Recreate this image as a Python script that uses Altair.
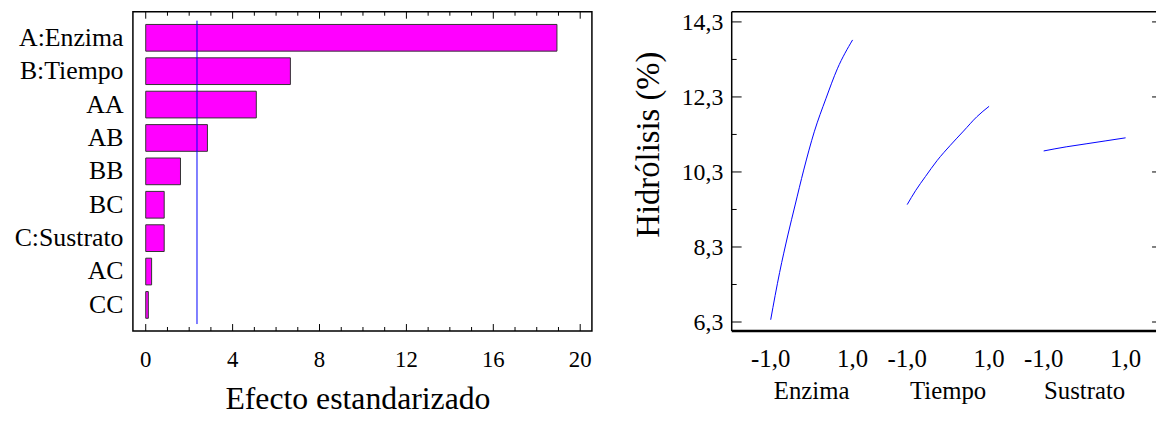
import altair as alt
import pandas as pd

# ---------------- data: left panel (standardized Pareto chart) ----------------
terms = ["A:Enzima", "B:Tiempo", "AA", "AB", "BB", "BC", "C:Sustrato", "AC", "CC"]
effects = [18.93, 6.66, 5.09, 2.84, 1.60, 0.85, 0.85, 0.27, 0.12]
t_crit = 2.36
effect_major_ticks = [0, 4, 8, 12, 16, 20]
effect_minor_ticks = [1, 2, 3, 5, 6, 7, 9, 10, 11, 13, 14, 15, 17, 18, 19]
x_title = "Efecto estandarizado"

# ---------------- data: right panel (main effects plot) ----------------
factors = ["Enzima", "Tiempo", "Sustrato"]
enzima_level = [-1.0, -0.782, -0.58, -0.403, -0.194, 0.064, 0.347, 0.628, 1.0]
enzima_hidrolisis = [6.36, 7.62, 8.62, 9.42, 10.35, 11.37, 12.25, 13.05, 13.82]
tiempo_level = [-1.0, -0.796, -0.553, -0.272, 0.053, 0.376, 0.699, 1.0]
tiempo_hidrolisis = [9.43, 9.80, 10.18, 10.60, 11.01, 11.39, 11.77, 12.05]
sustrato_level = [-1.0, -0.45, 0.035, 0.52, 1.0]
sustrato_hidrolisis = [10.86, 10.97, 11.05, 11.13, 11.21]
level_ticks = [-1.0, 1.0]
y_major_ticks = [6.3, 8.3, 10.3, 12.3, 14.3]
y_minor_ticks = [7.3, 9.3, 11.3, 13.3]
y_title = "Hidrólisis (%)"

FONT = "Liberation Serif"
BLOCK = 10.0 / 3.0  # horizontal spacing between factor blocks (layout)


def fmt_comma(v):
    return f"{v:.1f}".replace(".", ",")


# ---------------- left panel ----------------
LW, LH = 463, 322
df_eff = pd.DataFrame({"term": terms, "effect": effects})
xscale_l = alt.Scale(domain=[-0.59, 20.54], nice=False, zero=False)

bars = alt.Chart(df_eff).mark_bar(fill="#ff00ff", stroke="#333333", strokeWidth=1).encode(
    x=alt.X("effect:Q", scale=xscale_l, axis=None),
    y=alt.Y("term:N", sort=terms,
            scale=alt.Scale(paddingInner=0.2, paddingOuter=0.38),
            axis=alt.Axis(title=None, ticks=False, tickSize=0, domain=False,
                          labelFont=FONT, labelColor="black",
                          labelFontSize=26, labelPadding=10, labelLimit=300)),
)

df_major = pd.DataFrame({"effect": effect_major_ticks,
                         "label": [str(v) for v in effect_major_ticks]})
df_minor = pd.DataFrame({"effect": effect_minor_ticks})
tick_layers = []
for dfx, ln in ((df_major, 7), (df_minor, 4)):
    tick_layers.append(alt.Chart(dfx).mark_rule(color="black", strokeWidth=1).encode(
        x=alt.X("effect:Q", scale=xscale_l, axis=None), y=alt.value(0), y2=alt.value(ln)))
    tick_layers.append(alt.Chart(dfx).mark_rule(color="black", strokeWidth=1).encode(
        x=alt.X("effect:Q", scale=xscale_l, axis=None), y=alt.value(LH), y2=alt.value(LH - ln)))

xlabels_l = alt.Chart(df_major).mark_text(font=FONT, fontSize=23, color="black",
                                          baseline="alphabetic", align="center").encode(
    x=alt.X("effect:Q", scale=xscale_l, axis=None), y=alt.value(LH + 36), text="label:N")

xtitle_l = alt.Chart(pd.DataFrame({"t": [x_title]})).mark_text(
    font=FONT, fontSize=32, color="black", baseline="alphabetic", align="center").encode(
    x=alt.value(227), y=alt.value(LH + 79), text="t:N")

crit = alt.Chart(pd.DataFrame({"effect": [t_crit]})).mark_rule(color="#0000ff", strokeWidth=1).encode(
    x=alt.X("effect:Q", scale=xscale_l, axis=None), y=alt.value(9), y2=alt.value(LH - 7))

left = alt.layer(bars, *tick_layers, crit, xlabels_l, xtitle_l).properties(
    width=LW, height=LH,
    view=alt.ViewBackground(stroke="black", strokeWidth=1.5),
)

# ---------------- right panel ----------------
RW, RH = 428, 322
rows = []
for i, (f, lv, hv) in enumerate(((factors[0], enzima_level, enzima_hidrolisis),
                                  (factors[1], tiempo_level, tiempo_hidrolisis),
                                  (factors[2], sustrato_level, sustrato_hidrolisis))):
    for u, h in zip(lv, hv):
        rows.append({"factor": f, "g": i * BLOCK + u + 1, "val": h})
df_curves = pd.DataFrame(rows)

xscale_r = alt.Scale(domain=[-0.952, 9.41], nice=False, zero=False)
yscale_r = alt.Scale(domain=[6.061, 14.571], nice=False, zero=False)

lines = alt.Chart(df_curves).mark_line(color="#0000ff", strokeWidth=1,
                                       interpolate="monotone").encode(
    x=alt.X("g:Q", scale=xscale_r, axis=None),
    y=alt.Y("val:Q", scale=yscale_r, axis=None),
    detail="factor:N",
)

df_xt = pd.DataFrame({"g": [i * BLOCK + u + 1 for i in range(len(factors)) for u in level_ticks],
                      "label": [fmt_comma(u) for i in range(len(factors)) for u in level_ticks]})
xlabels_r = alt.Chart(df_xt).mark_text(font=FONT, fontSize=25, color="black",
                                       baseline="alphabetic", align="center").encode(
    x=alt.X("g:Q", scale=xscale_r, axis=None), y=alt.value(RH + 36), text="label:N")

df_fac = pd.DataFrame({"factor": factors, "g": [i * BLOCK + 1 for i in range(len(factors))]})
fac_text = alt.Chart(df_fac).mark_text(font=FONT, fontSize=25, baseline="alphabetic",
                                       align="center", color="black").encode(
    x=alt.X("g:Q", scale=xscale_r, axis=None), y=alt.value(RH + 69), text="factor:N")

df_ym = pd.DataFrame({"val": y_major_ticks, "label": [fmt_comma(v) for v in y_major_ticks]})
df_yn = pd.DataFrame({"val": y_minor_ticks})
ylabels_r = alt.Chart(df_ym).mark_text(font=FONT, fontSize=24, color="black",
                                       baseline="alphabetic", align="right", dy=8).encode(
    y=alt.Y("val:Q", scale=yscale_r, axis=None), x=alt.value(-8.5), text="label:N")

ytitle_r = alt.Chart(pd.DataFrame({"t": [y_title]})).mark_text(
    font=FONT, fontSize=33, color="black", baseline="alphabetic", align="center",
    angle=270).encode(x=alt.value(-73.5), y=alt.value(134), text="t:N")

rt = []
rt.append(alt.Chart(df_ym).mark_rule(color="black", strokeWidth=1).encode(
    y=alt.Y("val:Q", scale=yscale_r, axis=None), x=alt.value(0), x2=alt.value(10)))
rt.append(alt.Chart(df_yn).mark_rule(color="black", strokeWidth=1).encode(
    y=alt.Y("val:Q", scale=yscale_r, axis=None), x=alt.value(0), x2=alt.value(5)))
rt.append(alt.Chart(df_ym).mark_rule(color="black", strokeWidth=1).encode(
    y=alt.Y("val:Q", scale=yscale_r, axis=None), x=alt.value(RW - 4), x2=alt.value(RW)))

frame_df = pd.DataFrame({"v": [0]})
top_border = alt.Chart(frame_df).mark_rule(color="black", strokeWidth=1.5).encode(
    x=alt.value(0), x2=alt.value(RW), y=alt.value(0))
left_border = alt.Chart(frame_df).mark_rule(color="black", strokeWidth=1.5).encode(
    x=alt.value(0), y=alt.value(0), y2=alt.value(RH))
bottom_border = alt.Chart(frame_df).mark_rule(color="black", strokeWidth=2.5).encode(
    x=alt.value(0), x2=alt.value(RW), y=alt.value(RH))

right = alt.layer(lines, *rt, top_border, left_border, bottom_border,
                  ylabels_r, ytitle_r, xlabels_r, fac_text).properties(width=RW, height=RH)

chart = alt.hconcat(left, right, spacing=40).properties(
    padding={"left": 5, "top": 0, "right": 0, "bottom": 0},
    background="white",
).configure_view(stroke=None).configure_axis(
    labelFont=FONT, titleFont=FONT, labelColor="black", titleColor="black",
    titleFontWeight="normal"
)

chart.save("out.html", embed_options={"renderer": "svg", "actions": False})
